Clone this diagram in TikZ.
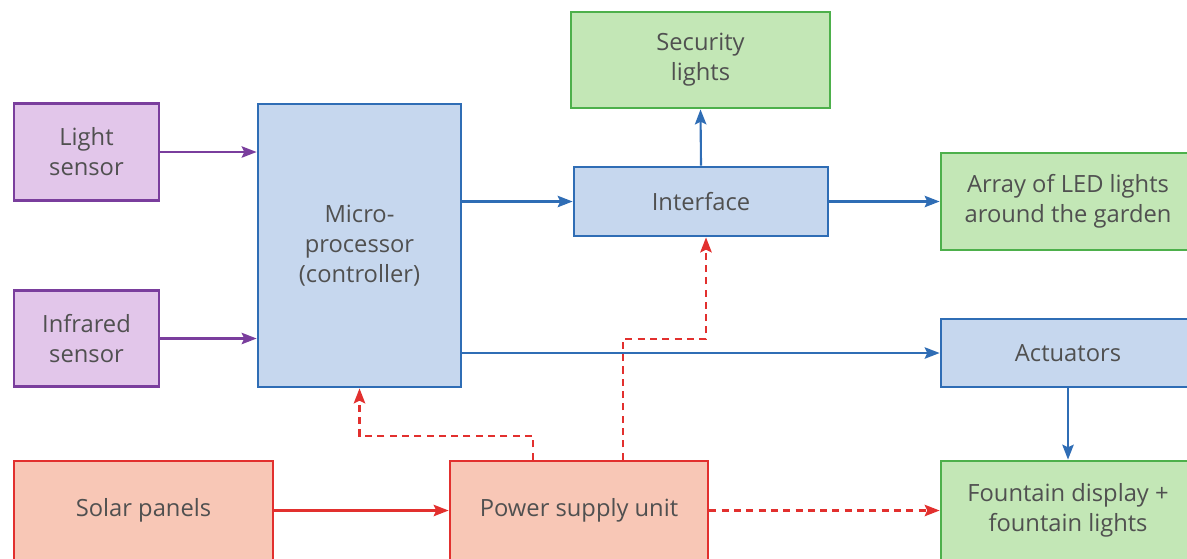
\documentclass[tikz,border=0pt]{standalone}
\usepackage{fontspec}
\setmainfont{Open Sans}
\usetikzlibrary{arrows.meta}

\definecolor{sensfill}{HTML}{E2C6EA}
\definecolor{sensdraw}{HTML}{7A3E9D}
\definecolor{ctrlfill}{HTML}{C6D7EE}
\definecolor{ctrldraw}{HTML}{2F6DB5}
\definecolor{outfill}{HTML}{C3E7B6}
\definecolor{outdraw}{HTML}{4DB04B}
\definecolor{pwrfill}{HTML}{F8C7B6}
\definecolor{pwrdraw}{HTML}{E2302E}
\definecolor{txtgray}{HTML}{505050}

\begin{document}
\begin{tikzpicture}[
    block/.style={rectangle, draw, line width=1.6pt, inner sep=0pt, align=center, text=txtgray, font=\fontsize{13.5}{17}\selectfont},
    sensor/.style={block, fill=sensfill, draw=sensdraw, minimum width=2.9cm, minimum height=1.93cm},
    ctrl/.style={block, fill=ctrlfill, draw=ctrldraw},
    output/.style={block, fill=outfill, draw=outdraw},
    power/.style={block, fill=pwrfill, draw=pwrdraw},
    arrow/.style={-{Stealth[length=8.5pt,width=6.5pt,inset=1.5pt]}, line width=1.2pt},
    supply/.style={arrow, pwrdraw, dash pattern=on 4pt off 3pt}
]
    \useasboundingbox (0,0) rectangle (23.74,-11.16);

    % Sensors
    \node[sensor] (light) at (1.73, -3.04) {Light\\sensor};
    \node[sensor] (infra) at (1.73, -6.77) {Infrared\\sensor};

    % Controller
    \node[ctrl, minimum width=4.06cm, minimum height=5.66cm] (micro) at (7.19, -4.91) {Micro-\\processor\\(controller)};
    \node[ctrl, minimum width=5.08cm, minimum height=1.38cm] (iface) at (14.02, -4.03) {Interface};
    \node[ctrl, minimum width=5.08cm, minimum height=1.36cm] (act) at (21.36, -7.06) {Actuators};

    % Outputs
    \node[output, minimum width=5.18cm, minimum height=1.92cm] (secur) at (14.01, -1.2) {Security\\lights};
    \node[output, minimum width=5.08cm, minimum height=1.94cm] (leds) at (21.36, -4.03) {Array of LED lights\\around the garden};
    \node[output, minimum width=5.08cm, minimum height=1.98cm] (fount) at (21.36, -10.21) {Fountain display +\\fountain lights};

    % Power
    \node[power, minimum width=5.18cm, minimum height=1.98cm] (solar) at (2.87, -10.21) {Solar panels};
    \node[power, minimum width=5.16cm, minimum height=1.98cm] (psu) at (11.58, -10.21) {Power supply unit};

    % Signal arrows
    \draw[arrow, sensdraw] (light.east) -- (light.east -| micro.west);
    \draw[arrow, sensdraw] (infra.east) -- (infra.east -| micro.west);
    \draw[arrow, ctrldraw] (iface.west -| micro.east) -- (iface.west);
    \draw[arrow, ctrldraw] (act.west -| micro.east) -- (act.west);
    \draw[arrow, ctrldraw] (iface.north) -- (secur.south);
    \draw[arrow, ctrldraw] (iface.east) -- (leds.west);
    \draw[arrow, ctrldraw] (act.south) -- (fount.north);

    % Power arrows
    \draw[arrow, pwrdraw] (solar.east) -- (psu.west);
    \draw[supply] (psu.east) -- (fount.west);
    \coordinate (tapA) at (10.66, -8.72);
    \draw[supply] (psu.north -| tapA) -- (tapA) -| (micro.south);
    \coordinate (tapB) at (12.46, -6.78);
    \coordinate (tapC) at (14.12, -6.78);
    \draw[supply] (psu.north -| tapB) -- (tapB) -- (tapC) -- (tapC |- iface.south);
\end{tikzpicture}
\end{document}
